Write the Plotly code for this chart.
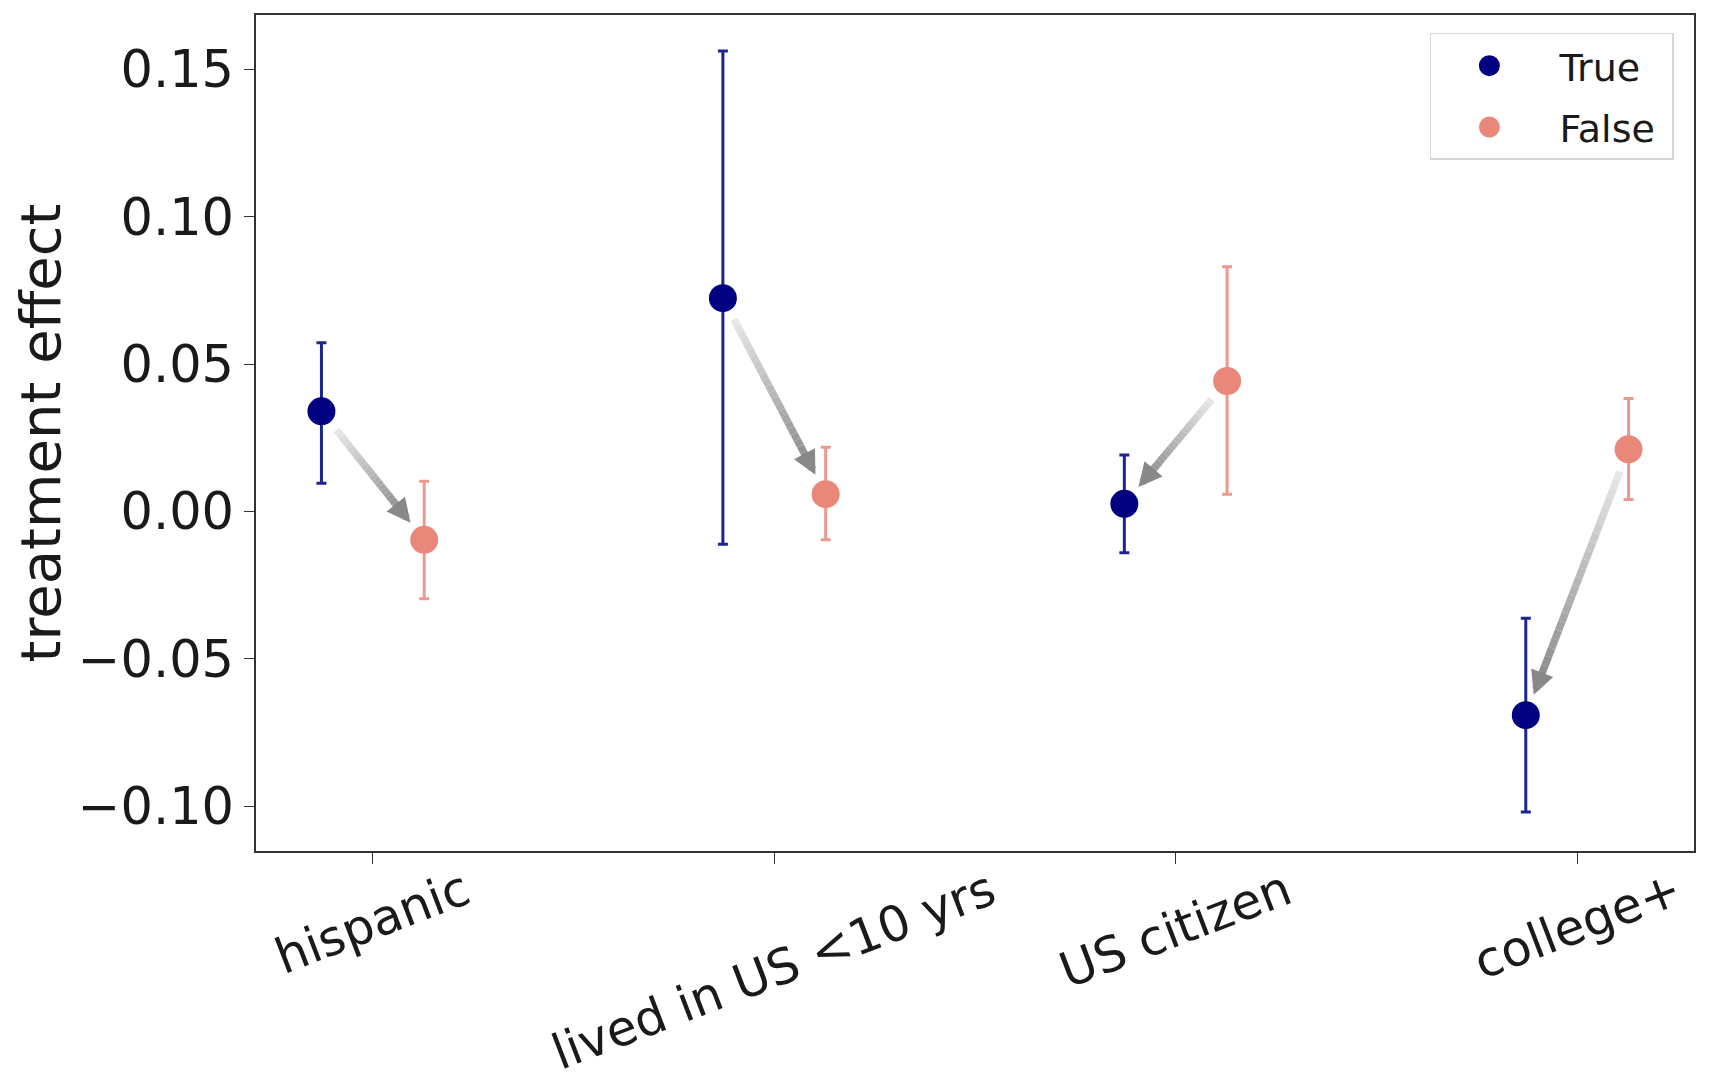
import numpy as np
import plotly.graph_objects as go

# ==========================================
# Data
# ==========================================
categories = ["hispanic", "lived in US <10 yrs", "US citizen", "college+"]

true_mean = [0.034, 0.0724, 0.0026, -0.0691]
true_upper = [0.0573, 0.1563, 0.0192, -0.0362]
true_lower = [0.0096, -0.0111, -0.0140, -0.1020]

false_mean = [-0.0096, 0.0059, 0.0443, 0.0211]
false_upper = [0.0103, 0.0218, 0.0831, 0.0384]
false_lower = [-0.0296, -0.0096, 0.0059, 0.0041]

y_ticks = [-0.10, -0.05, 0.00, 0.05, 0.10, 0.15]

# ==========================================
# Layout constants
# ==========================================
W, H = 1702, 1076          # page body adds an 8px margin
M_L, M_R, M_T, M_B = 248, 16, 5, 233
PLOT_W = W - M_L - M_R
PLOT_H = H - M_T - M_B
DODGE = 0.128
X_RANGE = [-0.291, len(categories) - 1 + 0.291]
Y_RANGE = [-0.1152, 0.1685]

NAVY = "#000080"
SALMON = "#E9877A"
FONT = "DejaVu Sans"


def to_px(x, y):
    px = (x - X_RANGE[0]) / (X_RANGE[1] - X_RANGE[0]) * PLOT_W
    py = (Y_RANGE[1] - y) / (Y_RANGE[1] - Y_RANGE[0]) * PLOT_H
    return px, py


def to_data(px, py):
    x = X_RANGE[0] + px / PLOT_W * (X_RANGE[1] - X_RANGE[0])
    y = Y_RANGE[1] - py / PLOT_H * (Y_RANGE[1] - Y_RANGE[0])
    return x, y


fig = go.Figure()

idx = np.arange(len(categories))
x_true = idx - DODGE
x_false = idx + DODGE

# marker outline in the same colour makes the legend symbols a bit bigger
fig.add_trace(go.Scatter(
    x=x_true, y=true_mean, mode="markers", name="\u00a0True\u00a0", legendgroup="t",
    marker=dict(color=NAVY, size=23, line=dict(width=5, color=NAVY)),
    error_y=dict(type="data", symmetric=False,
                 array=np.array(true_upper) - np.array(true_mean),
                 arrayminus=np.array(true_mean) - np.array(true_lower),
                 color="#1d248f", thickness=3, width=5),
))
fig.add_trace(go.Scatter(
    x=x_false, y=false_mean, mode="markers", name="\u00a0False\u00a0", legendgroup="f",
    marker=dict(color=SALMON, size=23, line=dict(width=5, color=SALMON)),
    error_y=dict(type="data", symmetric=False,
                 array=np.array(false_upper) - np.array(false_mean),
                 arrayminus=np.array(false_mean) - np.array(false_lower),
                 color="#ec9a8d", thickness=3, width=5),
))

# gradient arrows from the higher to the lower group in each category
SHRINK_A, SHRINK_B, HEAD = 24, 22, 20
N_SEG = 24
c0 = np.array([232, 232, 232])
c1 = np.array([138, 138, 138])
shapes = []
annotations = []
for i in range(len(categories)):
    a = (x_true[i], true_mean[i])
    b = (x_false[i], false_mean[i])
    if false_mean[i] > true_mean[i]:
        a, b = b, a
    ax_, ay_ = to_px(*a)
    bx_, by_ = to_px(*b)
    d = np.hypot(bx_ - ax_, by_ - ay_)
    ux, uy = (bx_ - ax_) / d, (by_ - ay_) / d
    sx, sy = ax_ + ux * SHRINK_A, ay_ + uy * SHRINK_A
    tx, ty = bx_ - ux * SHRINK_B, by_ - uy * SHRINK_B
    ex, ey = tx - ux * HEAD * 0.6, ty - uy * HEAD * 0.6
    for k in range(N_SEG):
        f0, f1 = k / N_SEG, (k + 1) / N_SEG
        p0 = to_data(sx + (ex - sx) * f0, sy + (ey - sy) * f0)
        p1 = to_data(sx + (ex - sx) * f1, sy + (ey - sy) * f1)
        col = c0 + (c1 - c0) * (f0 + f1) / 2
        shapes.append(dict(type="line", xref="x", yref="y",
                           x0=p0[0], y0=p0[1], x1=p1[0], y1=p1[1],
                           line=dict(color=f"rgb({int(col[0])},{int(col[1])},{int(col[2])})", width=7.5),
                           layer="above"))
    tip = to_data(tx, ty)
    annotations.append(dict(x=tip[0], y=tip[1], xref="x", yref="y", text="",
                            showarrow=True, arrowhead=2, arrowsize=0.63, arrowwidth=7.5,
                            arrowcolor="rgb(136,136,136)",
                            ax=-ux * HEAD, ay=-uy * HEAD))

# category labels, rotated and centred under the ticks
for i, cat in enumerate(categories):
    annotations.append(dict(x=i, y=0, xref="x", yref="paper", text=cat,
                            showarrow=False, textangle=-21, yanchor="top",
                            xanchor="center", yshift=-6,
                            font=dict(family=FONT, size=49, color="#1a1a1a")))

fig.update_layout(
    width=W, height=H,
    margin=dict(l=M_L, r=M_R, t=M_T, b=M_B),
    plot_bgcolor="white", paper_bgcolor="white",
    font=dict(family=FONT, size=51, color="#1a1a1a"),
    shapes=shapes, annotations=annotations,
    legend=dict(x=0.986, y=0.9785, xanchor="right", yanchor="top",
                bordercolor="#d6d6d6", borderwidth=1.5, bgcolor="white",
                font=dict(family=FONT, size=38), itemwidth=106,
                tracegroupgap=9),
    showlegend=True,
)
fig.update_xaxes(range=X_RANGE, tickvals=list(idx), ticktext=[""] * len(categories),
                 showgrid=False, zeroline=False, showline=True, mirror=True,
                 linecolor="#333333", linewidth=1.5, ticks="outside", ticklen=11,
                 tickcolor="#333333")
fig.update_yaxes(range=Y_RANGE, tickvals=y_ticks, tickformat=".2f",
                 showgrid=False, zeroline=False, showline=True, mirror=True,
                 linecolor="#333333", linewidth=1.5, ticks="outside", ticklen=10,
                 tickcolor="#333333",
                 title=dict(text="treatment effect", font=dict(family=FONT, size=56),
                            standoff=10))

fig.write_html("out.html")
